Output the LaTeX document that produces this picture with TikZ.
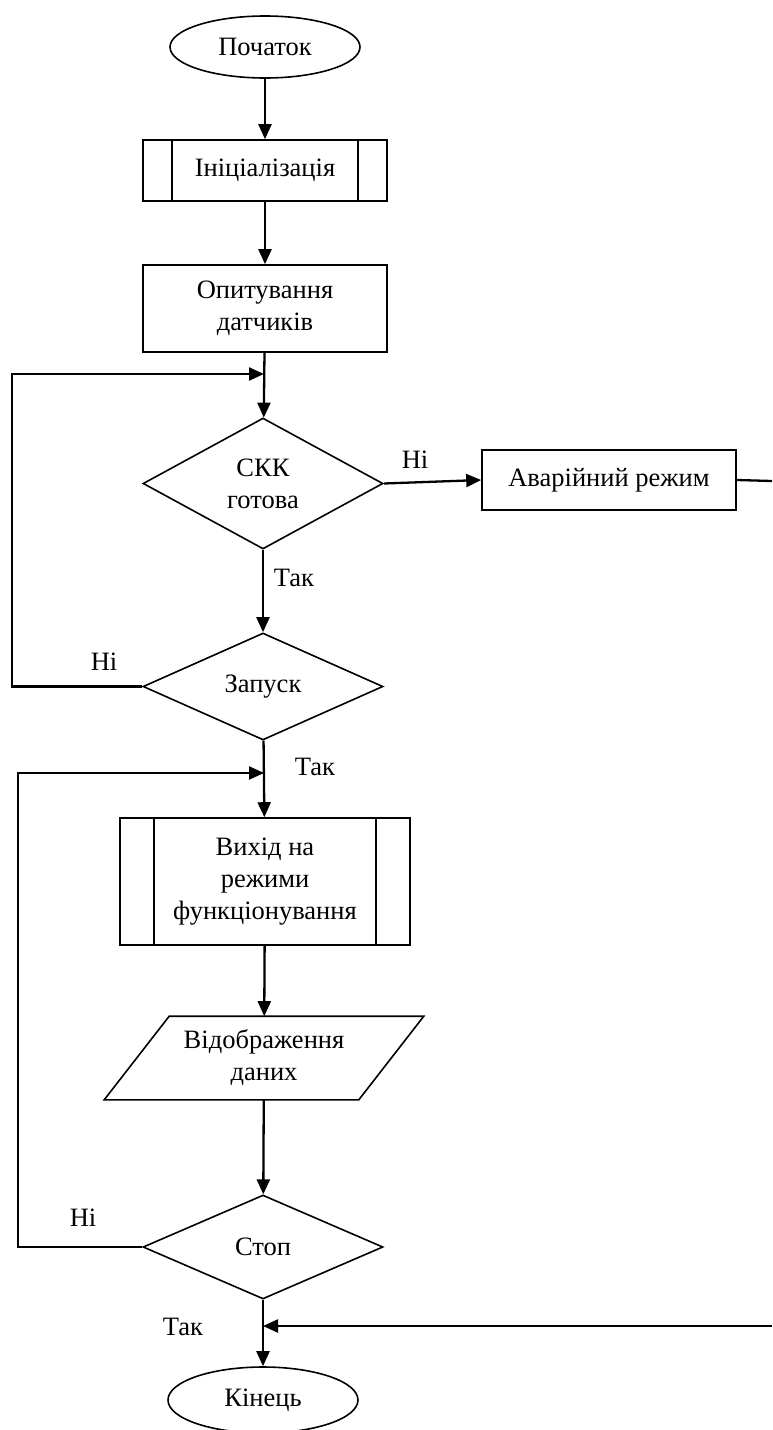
\documentclass[tikz,border=0pt]{standalone}
\usepackage{fontspec}
\setmainfont{Liberation Serif}
\usetikzlibrary{shapes.geometric,arrows.meta,calc}
\begin{document}
\begin{tikzpicture}[x=1pt,y=-1pt,
  base/.style={draw, line width=1.6pt, font=\fontsize{26.5}{32}\selectfont, align=center, inner sep=0pt},
  term/.style={base, ellipse, minimum width=190pt, minimum height=62pt},
  proc/.style={base, rectangle, minimum width=244pt},
  dec/.style={base, diamond, minimum width=240pt},
  conn/.style={line width=2.3pt, -{Triangle[length=15pt,width=13pt]}},
  plain/.style={line width=2.3pt},
  edge/.style={line width=1.6pt},
  lbl/.style={font=\fontsize{26.5}{32}\selectfont, inner sep=0pt}]
\useasboundingbox (0,0) rectangle (772,1430);

\node[term] (start) at (265,47) {Початок};
\node[proc, minimum height=61pt] (init) at (265,170.5) {Ініціалізація};
\draw[edge] ($(init.north west)+(30,0)$) -- ($(init.south west)+(30,0)$);
\draw[edge] ($(init.north east)-(30,0)$) -- ($(init.south east)-(30,0)$);
\node[proc, minimum height=87pt] (poll) at (265,308.5) {Опитування\\датчиків};
\node[dec, minimum height=131pt] (skk) at (263,483.5) {СКК\\готова};
\node[proc, minimum width=254pt, minimum height=60pt] (alarm) at (609,480) {Аварійний режим};
\node[dec, minimum height=107pt] (run) at (263,686.5) {Запуск};
\node[proc, minimum width=290pt, minimum height=127pt] (mode) at (265,881.5) {Вихід на\\режими\\функціонування};
\draw[edge] ($(mode.north west)+(35,0)$) -- ($(mode.south west)+(35,0)$);
\draw[edge] ($(mode.north east)-(35,0)$) -- ($(mode.south east)-(35,0)$);
\node[base, draw=none, minimum width=318pt, minimum height=82pt] (disp) at (264,1058) {Відображення\\даних};
\draw[edge] ($(disp.north west)+(65,0)$) -- (disp.north east) -- ($(disp.south east)-(65,0)$) -- (disp.south west) -- cycle;
\node[dec, minimum height=104pt] (stop) at (263,1247) {Стоп};
\node[term, minimum width=190pt, minimum height=66pt] (end) at (263,1400) {Кінець};

\coordinate (j1) at (264,374);
\coordinate (l1) at (12,374);
\coordinate (j2) at (264,773);
\coordinate (l2) at (18,773);
\coordinate (r1) at (772,481);
\coordinate (r2) at (772,1326);
\coordinate (j3) at (263,1326);

\draw[conn] (start) -- (init);
\draw[conn] (init) -- (poll);
\draw[conn] (poll) -- (skk);
\draw[conn] (run.west) -| (l1) -- (j1);
\draw[conn] (skk.east) -- (alarm.west);
\draw[plain] (alarm.east) -- (r1);
\draw[conn] (skk) -- (run);
\draw[conn] (run) -- (mode);
\draw[conn] (stop.west) -| (l2) -- (j2);
\draw[conn] (mode) -- (disp);
\draw[conn] (disp) -- (stop);
\draw[conn] (stop) -- (end);
\draw[conn] (r2) -- (j3);

\node[lbl] (n1) at (415,460) {Ні};
\node[lbl] (y1) at (294,578) {Так};
\node[lbl] (n2) at (104,662) {Ні};
\node[lbl] (y2) at (315,767) {Так};
\node[lbl] (n3) at (83,1218) {Ні};
\node[lbl] (y3) at (183,1327) {Так};
\end{tikzpicture}
\end{document}
